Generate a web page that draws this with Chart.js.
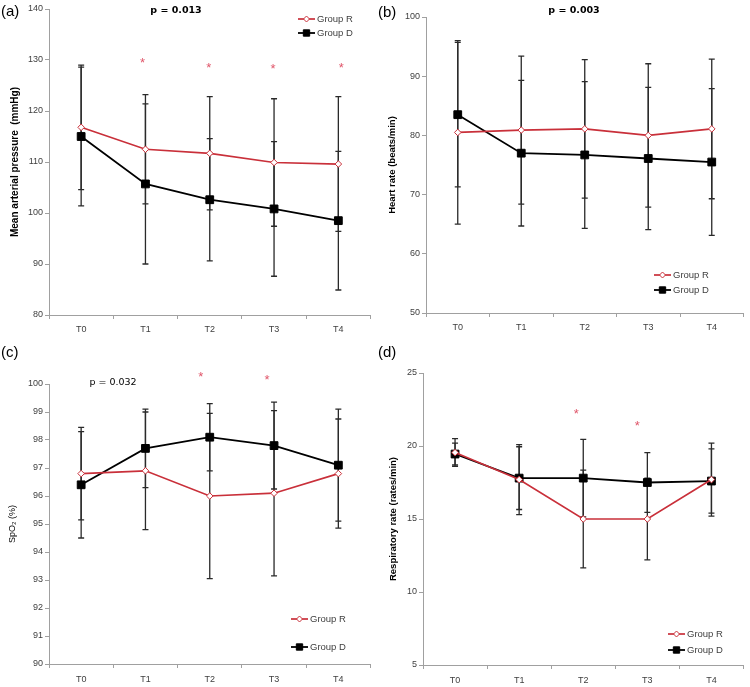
<!DOCTYPE html>
<html><head><meta charset="utf-8">
<script src="https://cdn.jsdelivr.net/npm/chart.js@4.4.0/dist/chart.umd.min.js"></script>
<style>
html,body{margin:0;padding:0;background:#fff;}
#wrap{position:relative;width:750px;height:687px;overflow:hidden;}
canvas{position:absolute;}
</style></head><body>
<div id="wrap">
<canvas id="ca" width="377" height="345" style="left:0;top:0"></canvas>
<canvas id="cb" width="373" height="345" style="left:377px;top:0"></canvas>
<canvas id="cc" width="377" height="342" style="left:0;top:345px"></canvas>
<canvas id="cd" width="373" height="342" style="left:377px;top:345px"></canvas>
</div>
<script>
// ---------- data ----------
const categories = ['T0', 'T1', 'T2', 'T3', 'T4'];
const seriesNames = ['Group R', 'Group D'];

// (a) Mean arterial pressure (mmHg)
const mapR   = [116.8, 112.5, 111.7, 109.9, 109.6];
const mapRsd = [12.2, 10.7, 11.1, 12.5, 13.2];
const mapD   = [115.0, 105.7, 102.6, 100.8, 98.5];
const mapDsd = [13.6, 15.7, 12.0, 13.2, 13.6];
const mapStarCat = [1, 2, 3, 4];
const mapStarVal = [130.0, 129.0, 128.8, 129.1];

// (b) Heart rate (beats/min)
const hrR   = [80.5, 80.9, 81.1, 80.0, 81.1];
const hrRsd = [15.5, 12.5, 11.7, 12.1, 11.8];
const hrD   = [83.5, 77.0, 76.7, 76.1, 75.5];
const hrDsd = [12.2, 12.3, 12.4, 12.0, 12.4];

// (c) SpO2 (%)
const spoR   = [96.8, 96.9, 96.0, 96.1, 96.8];
const spoRsd = [1.65, 2.1, 2.95, 2.95, 1.95];
const spoD   = [96.4, 97.7, 98.1, 97.8, 97.1];
const spoDsd = [1.9, 1.4, 1.2, 1.55, 2.0];
const spoStarCat = [2, 3];
const spoStarVal = [100.35, 100.25];

// (d) Respiratory rate (rates/min)
const rrR   = [19.55, 17.7, 15.0, 15.0, 17.7];
const rrRsd = [0.95, 2.4, 3.35, 2.8, 2.5];
const rrD   = [19.45, 17.8, 17.8, 17.5, 17.6];
const rrDsd = [0.75, 2.15, 2.65, 2.05, 2.2];
const rrStarCat = [2, 3];
const rrStarVal = [22.4, 21.6];

// ---------- styles ----------
const RED = '#c9303a';
const STAR = '#e0566a';
const AXIS = '#a0a0a0';
const TICK = '#404040';
const EBAR = '#2a2a2a';
const FONT = "'Liberation Sans', Arial, sans-serif";
const PFONT = "'DejaVu Sans', Verdana, sans-serif";

const decor = {
  id: 'decor',
  beforeDatasetsDraw(chart, args, o) {
    const ctx = chart.ctx, xs = chart.scales.x, ys = chart.scales.y;
    ctx.save();
    ctx.strokeStyle = EBAR; ctx.lineWidth = 1.3;
    o.sd.forEach((sdArr, di) => {
      const vals = chart.data.datasets[di].data;
      vals.forEach((v, j) => {
        const x = xs.getPixelForValue(j);
        const y1 = ys.getPixelForValue(v + sdArr[j]);
        const y2 = ys.getPixelForValue(v - sdArr[j]);
        ctx.beginPath();
        ctx.moveTo(x, y1); ctx.lineTo(x, y2);
        ctx.moveTo(x - 3, y1); ctx.lineTo(x + 3, y1);
        ctx.moveTo(x - 3, y2); ctx.lineTo(x + 3, y2);
        ctx.stroke();
      });
    });
    ctx.restore();
  },
  afterDraw(chart, args, o) {
    const ctx = chart.ctx, xs = chart.scales.x, ys = chart.scales.y;
    ctx.save();
    // significance stars
    ctx.fillStyle = STAR;
    ctx.font = '13px ' + FONT;
    ctx.textAlign = 'center'; ctx.textBaseline = 'middle';
    (o.starCat || []).forEach((c, i) => {
      ctx.fillText('*', xs.getPixelForValue(c) + (o.starDx[i] || 0), ys.getPixelForValue(o.starVal[i]) + 3.5);
    });
    // p value
    ctx.fillStyle = '#000';
    ctx.font = o.pFont;
    ctx.fillText(o.pText, o.pPos[0], o.pPos[1]);
    // panel letter
    ctx.font = '15px ' + FONT;
    ctx.textAlign = 'left';
    ctx.fillText(o.letter, o.letterPos[0], o.letterPos[1]);
    // legend
    ctx.font = o.legFont + 'px ' + FONT;
    ctx.textBaseline = 'middle';
    chart.data.datasets.forEach((ds, i) => {
      const y = o.legY[i], x0 = o.legX, x1 = o.legX + 17;
      ctx.strokeStyle = ds.borderColor; ctx.lineWidth = ds.borderWidth;
      ctx.beginPath(); ctx.moveTo(x0, y); ctx.lineTo(x1, y); ctx.stroke();
      ctx.fillStyle = ds.pointBackgroundColor; ctx.strokeStyle = ds.pointBorderColor;
      ctx.lineWidth = ds.pointBorderWidth;
      Chart.helpers.drawPoint(ctx, {pointStyle: ds.pointStyle, radius: ds.legendRadius, borderWidth: ds.pointBorderWidth, rotation: 0}, (x0 + x1) / 2, y);
      ctx.fillStyle = TICK;
      ctx.fillText(ds.label, x1 + 2, y + 0.5);
    });
    ctx.restore();
  }
};

function build(id, p) {
  const cv = document.getElementById(id);
  const W = cv.width, H = cv.height;
  return new Chart(cv, {
    type: 'line',
    data: {
      labels: categories,
      datasets: [
        {label: seriesNames[0], data: p.r, borderColor: RED, borderWidth: 1.7,
         pointStyle: 'rectRot', pointRadius: 3.3, pointBorderWidth: 1,
         pointBackgroundColor: '#fff', pointBorderColor: RED, legendRadius: 3, tension: 0, order: 1},
        {label: seriesNames[1], data: p.d, borderColor: '#000', borderWidth: 1.8,
         pointStyle: 'rect', pointRadius: 5.5, pointBorderWidth: 1,
         pointBackgroundColor: '#000', pointBorderColor: '#000', legendRadius: 4.5, tension: 0, order: 2}
      ]
    },
    options: {
      responsive: false, animation: false, devicePixelRatio: 1,
      events: [],
      layout: {padding: {top: p.area.top, right: W - p.area.right, bottom: 0, left: 0}},
      plugins: {
        legend: {display: false}, tooltip: {enabled: false},
        decor: {sd: [p.rsd, p.dsd], starCat: p.starCat, starVal: p.starVal, starDx: p.starDx || [],
                pText: p.pText, pPos: p.pPos, pFont: p.pFont, letter: p.letter, letterPos: p.letterPos,
                legX: p.legX, legY: p.legY, legFont: p.legFont}
      },
      scales: {
        x: {
          offset: true,
          grid: {offset: true, drawOnChartArea: false, drawTicks: true, tickLength: 4, color: AXIS},
          border: {color: AXIS, width: 1},
          ticks: {font: {family: FONT, size: 9}, color: TICK, padding: p.xPad, maxRotation: 0, autoSkip: false},
          afterFit(s) { s.height = H - p.area.bottom; }
        },
        y: {
          min: p.min, max: p.max,
          grid: {drawOnChartArea: false, drawTicks: true, tickLength: 4, color: AXIS},
          border: {color: AXIS, width: 1},
          ticks: {stepSize: p.step, font: {family: FONT, size: 9}, color: TICK, padding: 2},
          title: {display: true, text: p.title, color: '#000',
                  font: {family: FONT, size: p.titleSize, weight: p.titleWeight},
                  padding: {top: p.titlePad, bottom: 0}},
          afterFit(s) { s.width = p.area.left; }
        }
      }
    },
    plugins: [decor]
  });
}

build('ca', {
  r: mapR, rsd: mapRsd, d: mapD, dsd: mapDsd, min: 80, max: 140, step: 10,
  area: {left: 49, top: 9, right: 376, bottom: 315}, xPad: 5,
  title: 'Mean arterial pressure  (mmHg)', titleSize: 10, titleWeight: 'bold', titlePad: 9,
  starCat: mapStarCat, starVal: mapStarVal, starDx: [-3, -1, -1, 3],
  pText: 'p = 0.013', pPos: [176, 11], pFont: 'bold 9.5px ' + PFONT,
  letter: '(a)', letterPos: [1, 12],
  legX: 298, legY: [19, 33], legFont: 9.5
});
build('cb', {
  r: hrR, rsd: hrRsd, d: hrD, dsd: hrDsd, min: 50, max: 100, step: 10,
  area: {left: 49, top: 17, right: 370, bottom: 313}, xPad: 5,
  title: 'Heart rate (beats/min)', titleSize: 9.5, titleWeight: 'bold', titlePad: 10,
  pText: 'p = 0.003', pPos: [197, 11], pFont: 'bold 9.5px ' + PFONT,
  letter: '(b)', letterPos: [1, 13],
  legX: 277, legY: [275, 290], legFont: 9.5
});
build('cc', {
  r: spoR, rsd: spoRsd, d: spoD, dsd: spoDsd, min: 90, max: 100, step: 1,
  area: {left: 49, top: 39, right: 372, bottom: 319}, xPad: 6,
  title: 'SpO\u2082 (%)', titleSize: 9, titleWeight: 'normal', titlePad: 7,
  starCat: spoStarCat, starVal: spoStarVal, starDx: [-9, -7],
  pText: 'p = 0.032', pPos: [113, 38], pFont: '9.5px ' + PFONT,
  letter: '(c)', letterPos: [1, 8],
  legX: 291, legY: [274, 302], legFont: 9.5
});
build('cd', {
  r: rrR, rsd: rrRsd, d: rrD, dsd: rrDsd, min: 5, max: 25, step: 5,
  area: {left: 46, top: 28, right: 370, bottom: 320}, xPad: 6,
  title: 'Respiratory rate (rates/min)', titleSize: 9.5, titleWeight: 'bold', titlePad: 11,
  starCat: rrStarCat, starVal: rrStarVal, starDx: [-7, -10],
  pText: '', pPos: [0, 0], pFont: '9px ' + PFONT,
  letter: '(d)', letterPos: [1, 8],
  legX: 291, legY: [289, 305], legFont: 9.5
});
</script>
</body></html>
